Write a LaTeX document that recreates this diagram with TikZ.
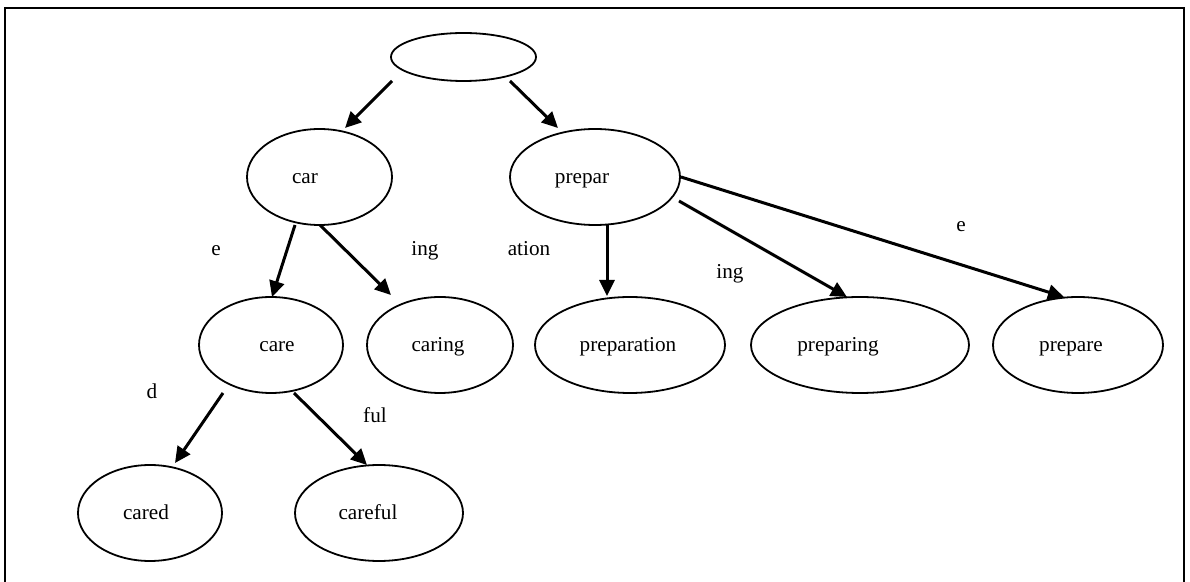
\documentclass[tikz,border=0pt]{standalone}
\usepackage{fontspec}
\setmainfont{Liberation Serif}
\usetikzlibrary{shapes.geometric,arrows.meta,calc}
\begin{document}
\begin{tikzpicture}[x=0.5pt,y=-0.5pt,
  word/.style={font=\fontsize{10.6}{12}\selectfont,text height=1ex,text depth=0pt},
  wlabel/.style={word,yshift=-1pt},
  morph/.style={ellipse,draw,line width=0.9pt,inner sep=0pt,minimum height=48pt},
  link/.style={line width=1.5pt,-{Triangle[length=8pt,width=7.5pt]}},
  suffix/.style={word,inner sep=0pt}]
\useasboundingbox (0,0) rectangle (1190,582);
% frame around the tree
\draw[line width=1.1pt] (5,582) -- (5,8) -- (1184,8) -- (1184,582);

% morpheme nodes
\node[morph,minimum width=72.5pt,minimum height=24pt] (root) at (463.5,57) {};
\node[morph,minimum width=72.5pt,label={[wlabel,xshift=-7.25pt]center:car}] (car) at (319.5,177) {};
\node[morph,minimum width=85pt,label={[wlabel,xshift=-6.5pt]center:prepar}] (prepar) at (595,177) {};
\node[morph,minimum width=72pt,label={[wlabel,xshift=3pt]center:care}] (care) at (271,345) {};
\node[morph,minimum width=73pt,label={[wlabel,xshift=-1pt]center:caring}] (caring) at (440,345) {};
\node[morph,minimum width=95pt,label={[wlabel,xshift=-1pt]center:preparation}] (preparation) at (630,345) {};
\node[morph,minimum width=109pt,label={[wlabel,xshift=-11pt]center:preparing}] (preparing) at (860,345) {};
\node[morph,minimum width=85pt,label={[wlabel,xshift=-3.5pt]center:prepare}] (prepare) at (1078,345) {};
\node[morph,minimum width=72pt,label={[wlabel,xshift=-2pt]center:cared}] (cared) at (150,513) {};
\node[morph,minimum width=84pt,label={[wlabel,xshift=-5.5pt]center:careful}] (careful) at (379,513) {};

% suffix labels
\node[suffix] (sE1) at (216,251) {e};
\node[suffix] (sIng1) at (425,251) {ing};
\node[suffix] (sAtion) at (529,251) {ation};
\node[suffix] (sIng2) at (730,274) {ing};
\node[suffix] (sE2) at (961,227) {e};
\node[suffix] (sD) at (152,394) {d};
\node[suffix] (sFul) at (375,418) {ful};

% connectors
\draw[link] ($(root)+(-71.5,24)$) -- ($(car)+(25.5,-49)$);
\draw[link] ($(root)+(46.5,24)$) -- ($(prepar)+(-37,-49)$);
\draw[link] ($(car)+(-24.5,48)$) -- ($(care)+(1,-48)$);
\draw[link] ($(car)+(0.5,48)$) -- ($(caring)+(-49,-50)$);
\draw[link] ($(prepar)+(12,48)$) -- ($(preparation)+(-23,-49)$);
\draw[link] ($(prepar)+(84,24)$) -- ($(preparing)+(-13,-48)$);
\draw[link] ($(prepar)+(86,0)$) -- ($(prepare)+(-14,-48)$);
\draw[link] ($(care)+(-48,48)$) -- ($(cared)+(25,-50)$);
\draw[link] ($(care)+(23,48)$) -- ($(careful)+(-12,-48)$);
\end{tikzpicture}
\end{document}
